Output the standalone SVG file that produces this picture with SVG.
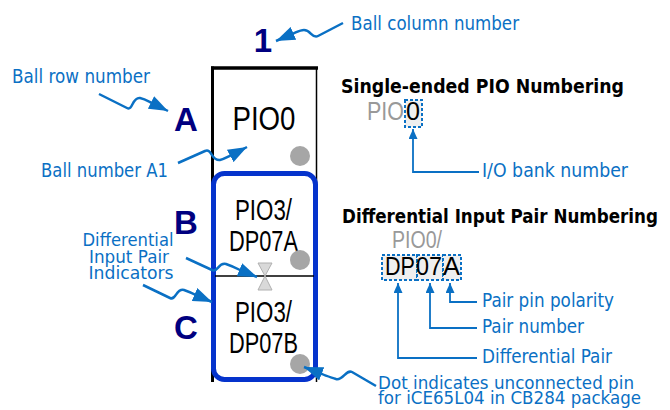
<svg xmlns="http://www.w3.org/2000/svg" width="670" height="410" viewBox="0 0 670 410">
<style>
.lbl{font-family:"DejaVu Sans","Liberation Sans",sans-serif;font-size:19px;fill:#0a70c4}
.lbs{font-family:"DejaVu Sans","Liberation Sans",sans-serif;font-size:17.5px;fill:#0a70c4}
.hd{font-family:"DejaVu Sans","Liberation Sans",sans-serif;font-size:19px;font-weight:bold;fill:#000}
.cell{font-family:"Liberation Sans Narrow","Liberation Sans",sans-serif;fill:#000}
.rc{font-family:"Liberation Sans",Arial,sans-serif;font-weight:bold;font-size:33px;fill:#000080}
.gr{fill:#999}
.sq{fill:none;stroke:#0a70c4;stroke-width:2.5;stroke-linejoin:round}
.el{fill:none;stroke:#0a70c4;stroke-width:1.8}
.db{fill:#efefef;stroke:#0a70c4;stroke-width:2;stroke-dasharray:3 2}
.dot{fill:#a6a6a6}
</style>
<defs>
<marker id="big" markerUnits="userSpaceOnUse" markerWidth="20" markerHeight="14" refX="19" refY="7" orient="auto">
<path d="M0,0 L19,7 L0,14 z" fill="#0a70c4"/>
</marker>
<marker id="sm" markerUnits="userSpaceOnUse" markerWidth="10" markerHeight="10" refX="10" refY="4.5" orient="auto">
<path d="M0,0 L10,4.5 L0,9 z" fill="#0a70c4"/>
</marker>
</defs>

<g id="ball-box">
<line x1="212.5" y1="66.5" x2="212.5" y2="382" stroke="#000" stroke-width="3"/>
<line x1="211" y1="68" x2="318" y2="68" stroke="#000" stroke-width="3.5"/>
<line x1="316.5" y1="68" x2="316.5" y2="382" stroke="#000" stroke-width="1.5"/>
</g>

<g id="cell-A1">
<text class="cell" x="264" y="130" font-size="33" text-anchor="middle" textLength="63" lengthAdjust="spacingAndGlyphs">PIO0</text>
<circle class="dot" cx="300" cy="156" r="10"/>
</g>

<g id="diff-pair">
<rect x="213.5" y="173.5" width="102" height="206" rx="11" fill="none" stroke="#0533cc" stroke-width="5"/>
<line x1="215" y1="276" x2="314" y2="276" stroke="#000" stroke-width="1.5"/>
</g>

<g id="cell-B1">
<text class="cell" x="263.5" y="220" font-size="30" text-anchor="middle" textLength="57" lengthAdjust="spacingAndGlyphs">PIO3/</text>
<text class="cell" x="263.5" y="251" font-size="30" text-anchor="middle" textLength="69" lengthAdjust="spacingAndGlyphs">DP07A</text>
<circle class="dot" cx="300" cy="260" r="10"/>
</g>

<g id="cell-C1">
<text class="cell" x="263.5" y="322" font-size="30" text-anchor="middle" textLength="57" lengthAdjust="spacingAndGlyphs">PIO3/</text>
<text class="cell" x="263.5" y="353" font-size="30" text-anchor="middle" textLength="69" lengthAdjust="spacingAndGlyphs">DP07B</text>
<circle class="dot" cx="300" cy="364" r="10"/>
</g>

<g id="bowtie">
<polygon points="258,263 272,263 265,276" fill="#d9d9d9" stroke="#b0b0b0" stroke-width="1"/>
<polygon points="258,290 272,290 265,276" fill="#d9d9d9" stroke="#b0b0b0" stroke-width="1"/>
</g>

<g id="row-col-labels">
<text class="rc" x="263" y="52" text-anchor="middle">1</text>
<text class="rc" x="186" y="131" text-anchor="middle">A</text>
<text class="rc" x="186" y="234" text-anchor="middle">B</text>
<text class="rc" x="186" y="339" text-anchor="middle">C</text>
</g>

<g id="annotations">
<text class="lbl" x="351" y="30" textLength="168" lengthAdjust="spacingAndGlyphs">Ball column number</text>
<text class="lbl" x="12" y="83" textLength="138" lengthAdjust="spacingAndGlyphs">Ball row number</text>
<text class="lbl" x="41" y="177" textLength="127" lengthAdjust="spacingAndGlyphs">Ball number A1</text>
<text class="lbs" x="128" y="246" text-anchor="middle" textLength="91" lengthAdjust="spacingAndGlyphs">Differential</text>
<text class="lbs" x="129" y="263" text-anchor="middle" textLength="80" lengthAdjust="spacingAndGlyphs">Input Pair</text>
<text class="lbs" x="131" y="279" text-anchor="middle" textLength="85" lengthAdjust="spacingAndGlyphs">Indicators</text>
<text class="lbs" x="378" y="389" textLength="256" lengthAdjust="spacingAndGlyphs">Dot indicates unconnected pin</text>
<text class="lbs" x="378" y="404" textLength="263" lengthAdjust="spacingAndGlyphs">for iCE65L04 in CB284 package</text>
</g>

<g id="single-ended">
<text class="hd" x="341" y="93" textLength="283" lengthAdjust="spacingAndGlyphs">Single-ended PIO Numbering</text>
<rect class="db" x="405" y="100" width="17" height="27"/>
<text class="cell gr" x="367" y="120" font-size="26" textLength="37" lengthAdjust="spacingAndGlyphs">PIO</text>
<text class="cell" x="406" y="120" font-size="26" textLength="14" lengthAdjust="spacingAndGlyphs">0</text>
<text class="lbl" x="482" y="177" textLength="146" lengthAdjust="spacingAndGlyphs">I/O bank number</text>
</g>

<g id="differential">
<text class="hd" x="342" y="223" textLength="316" lengthAdjust="spacingAndGlyphs">Differential Input Pair Numbering</text>
<text class="cell gr" x="392" y="248" font-size="23" textLength="50" lengthAdjust="spacingAndGlyphs">PIO0/</text>
<rect class="db" x="382" y="255" width="35" height="25"/>
<rect class="db" x="417" y="255" width="26" height="25"/>
<rect class="db" x="443" y="255" width="18" height="25"/>
<text class="cell" x="385" y="275" font-size="25" textLength="30" lengthAdjust="spacingAndGlyphs">DP</text>
<text class="cell" x="416" y="275" font-size="25" textLength="26" lengthAdjust="spacingAndGlyphs">07</text>
<text class="cell" x="443" y="275" font-size="25" textLength="17" lengthAdjust="spacingAndGlyphs">A</text>
<text class="lbl" x="482" y="307" textLength="132" lengthAdjust="spacingAndGlyphs">Pair pin polarity</text>
<text class="lbl" x="482" y="333" textLength="102" lengthAdjust="spacingAndGlyphs">Pair number</text>
<text class="lbl" x="482" y="363" textLength="130" lengthAdjust="spacingAndGlyphs">Differential Pair</text>
</g>

<g id="connectors">
<path class="sq" marker-end="url(#big)" d="M343,23 L318,36 C312,39 311,30 304,30 C300,30 297,32 292,34 L276,41"/>
<path class="sq" marker-end="url(#big)" d="M99,94 L127,108 C133,111 132,97 140,98 C145,99 148,101 152,103 L168,111"/>
<path class="sq" marker-end="url(#big)" d="M178,163 L205,151 C212,148 211,161 220,160 C225,159 229,156 232,155 L247,147"/>
<path class="sq" marker-end="url(#big)" d="M186,258 L212,270 C218,273 218,262 226,264 C232,266 236,268 240,270 L257,277"/>
<path class="sq" marker-end="url(#big)" d="M143,285 L170,298 C176,301 176,288 184,290 C190,292 194,294 198,296 L212,302"/>
<path class="sq" marker-end="url(#big)" d="M376,386 L352,372 C346,369 343,381 336,379 C330,377 326,376 322,374 L304,367"/>
<path class="el" marker-end="url(#sm)" d="M479,172 H413 V129"/>
<path class="el" marker-end="url(#sm)" d="M477,302 H450 V283"/>
<path class="el" marker-end="url(#sm)" d="M477,328 H430 V283"/>
<path class="el" marker-end="url(#sm)" d="M477,358 H398 V283"/>
</g>
</svg>
